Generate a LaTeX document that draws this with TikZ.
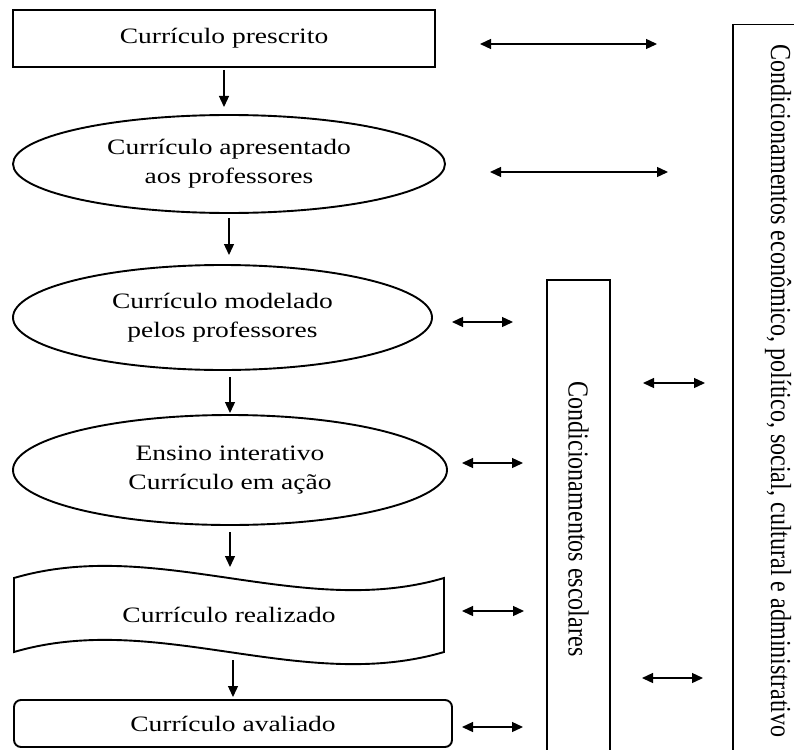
\documentclass[tikz,border=0pt]{standalone}
\usepackage{fontspec}
\setmainfont{Liberation Serif}
\newfontfamily\boxfont[FakeStretch=1.25]{Liberation Serif}
\newfontfamily\sidefont[FakeStretch=0.83]{Liberation Serif}
\usetikzlibrary{arrows.meta,positioning,shapes.geometric}

\begin{document}
\begin{tikzpicture}[x=1pt,y=-1pt,
	every node/.style={inner sep=0pt,outer sep=0pt},
	stage/.style={draw,line width=1.9pt,align=center,font=\boxfont\fontsize{22}{29}\selectfont},
	oval/.style={stage,ellipse},
	side/.style={draw,line width=1.9pt,rotate=-90,font=\sidefont\fontsize{29}{32}\selectfont},
	flow/.style={line width=1.3pt,-{Triangle[length=11pt,width=10pt]}},
	both/.style={line width=1.3pt,{Triangle[length=11pt,width=10pt]}-{Triangle[length=11pt,width=10pt]}}]

	\useasboundingbox (0,0) rectangle (794,749);

	% stages of the curriculum
	\node[stage,minimum width=422,minimum height=57] (prescrito) at (224,38.5) {Currículo prescrito};
	\node[oval,minimum width=432,minimum height=98] (apresentado) at (229,164) {Currículo apresentado\\aos professores};
	\node[oval,minimum width=419,minimum height=105] (modelado) at (222.5,317.5) {Currículo modelado\\pelos professores};
	\node[oval,minimum width=434,minimum height=110] (ensino) at (230,470) {Ensino interativo\\Currículo em ação};
	\node[stage,draw=none,minimum width=430,minimum height=74] (realizado) at (229,615) {Currículo realizado};
	\draw[line width=1.9pt] (realizado.north west) .. controls +(143,-42) and +(-143,42) .. (realizado.north east)
		-- (realizado.south east) .. controls +(-143,42) and +(143,-42) .. (realizado.south west) -- cycle;
	\node[stage,rounded corners=7pt,minimum width=438,minimum height=47] (avaliado) at (233,723.5) {Currículo avaliado};

	% conditioning frames
	\node[side,minimum width=478,minimum height=63] (escolares) at (578.5,519) {Condicionamentos escolares};
	\node[side,minimum width=733,minimum height=90] (contexto) at (778,391) {Condicionamentos econômico, político, social, cultural e administrativo};

	% downward flow
	\draw[flow,shorten <=3pt,shorten >=8pt] (prescrito.south) -- (prescrito.south|-apresentado.north);
	\draw[flow,shorten <=5pt,shorten >=10pt] (apresentado.south) -- (apresentado.south|-modelado.north);
	\draw[flow,shorten <=7pt,shorten >=2pt] (modelado.south-|ensino.north) -- (ensino.north);
	\draw[flow,shorten <=7pt,shorten >=11pt] (ensino.south) -- (ensino.south|-realizado.north);
	\draw[flow,shorten <=8pt,shorten >=3pt] (realizado.south-|avaliado.north) -- (avaliado.north);

	% mutual influences
	\coordinate (p1) at (480,44);  \coordinate (q1) at (657,44);
	\coordinate (p2) at (490,172); \coordinate (q2) at (668,172);
	\coordinate (p3) at (452,322); \coordinate (q3) at (513,322);
	\coordinate (p4) at (462,463); \coordinate (q4) at (523,463);
	\coordinate (p5) at (462,611); \coordinate (q5) at (524,611);
	\coordinate (p6) at (462,727); \coordinate (q6) at (523,727);
	\coordinate (p7) at (643,383); \coordinate (q7) at (705,383);
	\coordinate (p8) at (642,678); \coordinate (q8) at (703,678);
	\draw[both] (p1) -- (q1);
	\draw[both] (p2) -- (q2);
	\draw[both] (p3) -- (q3);
	\draw[both] (p4) -- (q4);
	\draw[both] (p5) -- (q5);
	\draw[both] (p6) -- (q6);
	\draw[both] (p7) -- (q7);
	\draw[both] (p8) -- (q8);
\end{tikzpicture}
\end{document}
